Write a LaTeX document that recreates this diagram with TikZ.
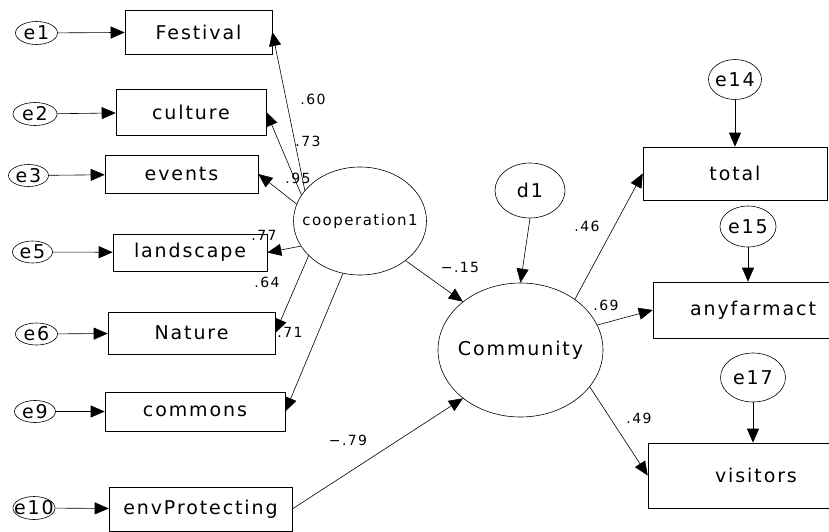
\documentclass[tikz,border=0pt]{standalone}
\usepackage{fontspec}
\newfontfamily\amosfont{DejaVu Sans}[LetterSpace=10]
\usetikzlibrary{shapes.geometric}
\usetikzlibrary{arrows.meta}

\begin{document}
\begin{tikzpicture}[x=1pt,y=-1pt,line width=.6pt,
		obs/.style={draw,rectangle,inner sep=0pt,font=\amosfont\fontsize{19}{22}\selectfont},
		err/.style={draw,ellipse,inner sep=0pt},
		big/.style={font=\amosfont\fontsize{19}{22}\selectfont},
		small/.style={font=\amosfont\fontsize{15}{17}\selectfont},
		coef/.style={font=\amosfont\fontsize{14}{16}\selectfont},
		arr/.style={-{Triangle[length=14pt,width=12pt]}}]
	\path[use as bounding box,clip] (0,0) rectangle (829,532);
	\node[obs,minimum width=147pt,minimum height=44pt] (festival) at (198.5,32) {Festival};
	\node[obs,minimum width=150pt,minimum height=46pt] (culture) at (191,112) {culture};
	\node[obs,minimum width=153pt,minimum height=38pt] (events) at (181.5,174) {events};
	\node[obs,minimum width=154pt,minimum height=37pt] (landscape) at (190,252.5) {landscape};
	\node[obs,minimum width=167pt,minimum height=42pt] (nature) at (191.5,333) {Nature};
	\node[obs,minimum width=180pt,minimum height=39pt] (commons) at (195,411.5) {commons};
	\node[obs,minimum width=183pt,minimum height=44pt] (envprot) at (200.5,509) {envProtecting};
	\node[obs,minimum width=184pt,minimum height=53pt] (total) at (735,173.5) {total};
	\node[obs,minimum width=200pt,minimum height=56pt] (farm) at (753,310) {anyfarmact};
	\node[obs,minimum width=216pt,minimum height=65pt] (visitors) at (756,475.5) {visitors};

	\node[err,minimum width=42pt,minimum height=23pt,label={[big]center:e1}] (e1) at (36.5,33) {};
	\node[err,minimum width=44pt,minimum height=23pt,label={[big]center:e2}] (e2) at (35,114) {};
	\node[err,minimum width=40pt,minimum height=22pt,label={[big]center:e3}] (e3) at (28.5,175.5) {};
	\node[err,minimum width=40pt,minimum height=22pt,label={[big]center:e5}] (e5) at (32.5,252) {};
	\node[err,minimum width=42pt,minimum height=22pt,label={[big]center:e6}] (e6) at (36.5,334) {};
	\node[err,minimum width=41pt,minimum height=22pt,label={[big]center:e9}] (e9) at (35,411.5) {};
	\node[err,minimum width=42pt,minimum height=23pt,label={[big]center:e10}] (e10) at (34,508) {};
	\node[err,minimum width=53pt,minimum height=40pt,label={[big]center:e14}] (e14) at (735,79.5) {};
	\node[err,minimum width=56pt,minimum height=41pt,label={[big]center:e15}] (e15) at (748,226.5) {};
	\node[err,minimum width=65pt,minimum height=49pt,label={[big]center:e17}] (e17) at (753,377.5) {};
	\node[err,minimum width=70pt,minimum height=55pt,label={[big]center:d1}] (d1) at (530,190.5) {};
	\node[err,minimum width=133pt,minimum height=108pt,label={[small]center:cooperation1}] (coop) at (360,221) {};
	\node[err,minimum width=165pt,minimum height=134pt,label={[big]center:Community}] (comm) at (520.5,350) {};

	\draw[arr] (e1) -- (festival);
	\draw[arr] (e2) -- (culture);
	\draw[arr] (e3) -- (events);
	\draw[arr] (e5) -- (landscape);
	\draw[arr] (e6) -- (nature);
	\draw[arr] (e9) -- (commons);
	\draw[arr] (e10) -- (envprot);
	\draw[arr] (e14.south) -- (e14.south |- total.north);
	\draw[arr] (e15.south) -- (e15.south |- farm.north);
	\draw[arr] (e17.south) -- (e17.south |- visitors.north);
	\draw[arr] (d1.south) -- (comm.north);

	\draw[arr] (coop.151) -- (festival.east);
	\draw[arr] (coop.156) -- (culture.east);
	\draw[arr] (coop.165) -- (events.east);
	\draw[arr] (coop.203) -- (landscape.east);
	\draw[arr] (coop.214) -- (nature.east);
	\draw[arr] (coop.252) -- (commons.east);
	\draw[arr] (coop.319) -- (comm.140);
	\draw[arr] (envprot.east) -- (comm.220);
	\draw[arr] (comm.43) -- (total.west);
	\draw[arr] (comm.18) -- (farm.west);
	\draw[arr] (comm.332) -- (visitors.west);

	\node[coef] (l60) at (313,99) {.60};
	\node[coef] (l73) at (308,141) {.73};
	\node[coef] (l95) at (298,178) {.95};
	\node[coef] (l77) at (264,235) {.77};
	\node[coef] (l64) at (267,282) {.64};
	\node[coef] (l71) at (290,332) {.71};
	\node[coef] (l15) at (460,267) {−.15};
	\node[coef] (l79) at (348,440) {−.79};
	\node[coef] (l46) at (587,226) {.46};
	\node[coef] (l69) at (606,305) {.69};
	\node[coef] (l49) at (639,418) {.49};
\end{tikzpicture}
\end{document}
